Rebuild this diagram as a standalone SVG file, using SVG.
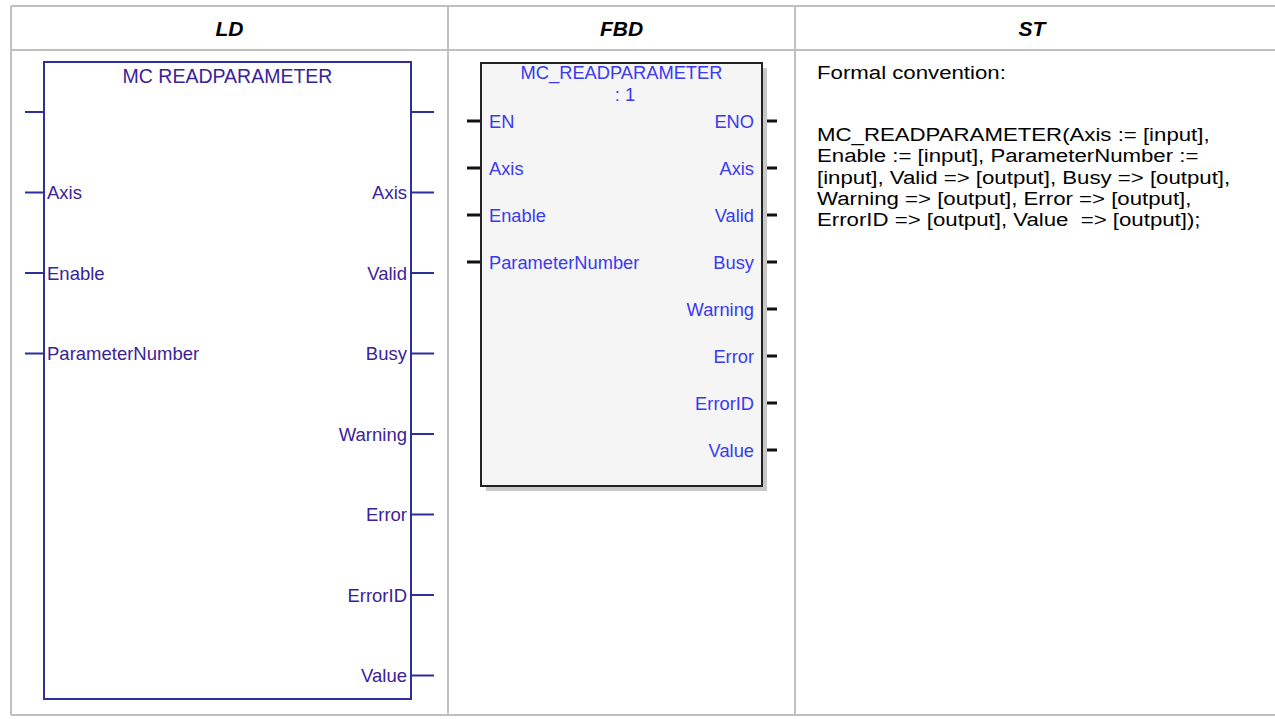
<svg xmlns="http://www.w3.org/2000/svg" width="1275" height="719" viewBox="0 0 1275 719">
<style>
.grid{stroke:#c0c0c0;stroke-width:2;fill:none}
.hdr{font-family:"Liberation Sans",Arial,sans-serif;font-size:21px;font-weight:bold;font-style:italic;fill:#000;text-anchor:middle}
.ldbox{fill:#fff;stroke:#2e2e9e;stroke-width:2}
.ldpin{stroke:#2e2e9e;stroke-width:2}
.ldt{font-family:"Liberation Sans",Arial,sans-serif;font-size:18.5px;fill:#3a2396}
.fbbox{fill:#f5f5f5;stroke:#222;stroke-width:2}
.fbsh{fill:#c8c8c8}
.fbpin{stroke:#111;stroke-width:3}
.fbt{font-family:"Liberation Sans",Arial,sans-serif;font-size:18.3px;fill:#3a3af0}
.st{font-family:"Liberation Sans",Arial,sans-serif;font-size:19px;fill:#000;white-space:pre}
.r{text-anchor:end}
.m{text-anchor:middle}
</style>
<rect x="0" y="0" width="1275" height="719" fill="#fff"/>
<g id="table">
<path class="grid" d="M11 6H1275M11 50H1275M11 715H1275M11 6V715M448 6V715M795 6V715"/>
<text class="hdr" x="229.5" y="36">LD</text>
<text class="hdr" x="621.5" y="36">FBD</text>
<text class="hdr" x="1032" y="36">ST</text>
</g>
<g id="connectors">
<path class="ldpin" d="M25 112H44M25 192.5H44M25 273H44M25 353.5H44M411 112H434M411 192.5H434M411 273H434M411 353.5H434M411 434H434M411 514.5H434M411 595H434M411 675.5H434"/>
<path class="fbpin" d="M467 121H481M467 168H481M467 215H481M467 262H481M762 121H777M762 168H777M762 215H777M762 262H777M762 309H777M762 356H777M762 403H777M762 450H777"/>
</g>
<g id="ld_block">
<rect class="ldbox" x="44" y="62" width="367" height="637"/>
<text class="ldt m" x="227.5" y="83" style="font-size:19.5px">MC READPARAMETER</text>
<text class="ldt" x="47" y="199">Axis</text>
<text class="ldt" x="47" y="279.5">Enable</text>
<text class="ldt" x="47" y="360">ParameterNumber</text>
<text class="ldt r" x="407" y="199">Axis</text>
<text class="ldt r" x="407" y="279.5">Valid</text>
<text class="ldt r" x="407" y="360">Busy</text>
<text class="ldt r" x="407" y="440.5">Warning</text>
<text class="ldt r" x="407" y="521">Error</text>
<text class="ldt r" x="407" y="601.5">ErrorID</text>
<text class="ldt r" x="407" y="682">Value</text>
</g>
<g id="fbd_block">
<rect class="fbsh" x="486" y="68" width="281" height="423"/>
<rect class="fbbox" x="481" y="63" width="281" height="423"/>
<text class="fbt m" x="621.5" y="79">MC_READPARAMETER</text>
<text class="fbt m" x="625" y="101">: 1</text>
<text class="fbt" x="489" y="127.5">EN</text>
<text class="fbt" x="489" y="174.5">Axis</text>
<text class="fbt" x="489" y="221.5">Enable</text>
<text class="fbt" x="489" y="268.5">ParameterNumber</text>
<text class="fbt r" x="754" y="127.5">ENO</text>
<text class="fbt r" x="754" y="174.5">Axis</text>
<text class="fbt r" x="754" y="221.5">Valid</text>
<text class="fbt r" x="754" y="268.5">Busy</text>
<text class="fbt r" x="754" y="315.5">Warning</text>
<text class="fbt r" x="754" y="362.5">Error</text>
<text class="fbt r" x="754" y="409.5">ErrorID</text>
<text class="fbt r" x="754" y="456.5">Value</text>
</g>
<g id="st_text" transform="translate(817,0) scale(1.17,1)">
<text class="st" x="0" y="79">Formal convention:</text>
<text class="st" x="0" y="141">MC_READPARAMETER(Axis := [input],</text>
<text class="st" x="0" y="162.3">Enable := [input], ParameterNumber :=</text>
<text class="st" x="0" y="183.6">[input], Valid =&gt; [output], Busy =&gt; [output],</text>
<text class="st" x="0" y="204.9">Warning =&gt; [output], Error =&gt; [output],</text>
<text class="st" x="0" y="226.2" xml:space="preserve">ErrorID =&gt; [output], Value  =&gt; [output]);</text>
</g>
</svg>
